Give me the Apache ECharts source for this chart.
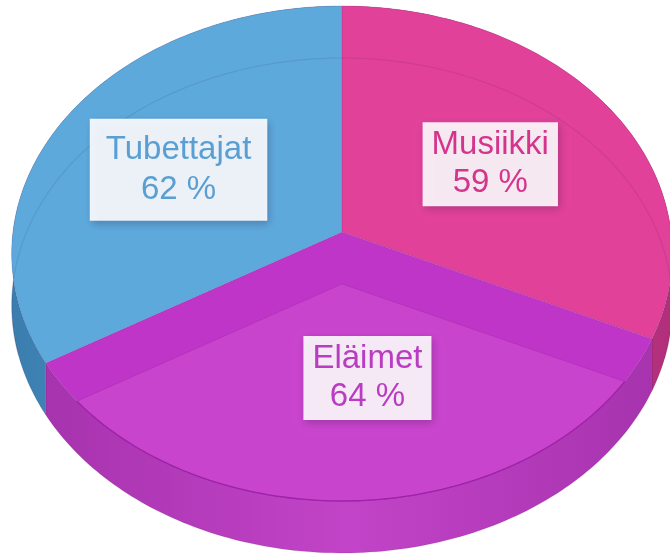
<!DOCTYPE html>
<html>
<head>
<meta charset="utf-8">
<script src="https://cdn.jsdelivr.net/npm/echarts@6/dist/echarts.min.js"></script>
<style>
html, body { margin: 0; padding: 0; background: #fff; }
#chart { width: 670px; height: 556px; }
</style>
</head>
<body>
<div id="chart"></div>
<script>
// slices, clockwise from 12 o'clock
const categories = ['Musiikki', 'Eläimet', 'Tubettajat'];
const shares = [59, 64, 62];

// look of each slice
const sliceStyle = {
    'Musiikki':   { face: '#E2419A', side: ['#B02F7A', '#C8388C'], text: '#D4358C', pad: [4, 9],   lh: 38, dx: 0 },
    'Eläimet':    { face: '#BE35C8', side: ['#A733AE', '#C244C8'], text: '#B93CC2', pad: [4, 9],   lh: 38, dx: 19, inset: '#C944CD' },
    'Tubettajat': { face: '#5DA9DC', side: ['#3A7DAE', '#4E98CC'], text: '#5A9FD4', pad: [11, 16], lh: 40, dx: -10 }
};

// perspective of the disc
const CX = 342, CY = 232, RX = 329, RY = 245.6, K = 0.0869, DEPTH = 52;

function proj(t, drop) {
    const u = Math.sin(t), v = Math.cos(t), d = 1 + K * v;
    return [CX + RX * u / d, CY - RY * v / d + drop];
}
function arc(t0, t1, drop) {
    const n = Math.max(2, Math.ceil(Math.abs(t1 - t0) / (Math.PI / 180)));
    const pts = [];
    for (let s = 0; s <= n; s++) pts.push(proj(t0 + (t1 - t0) * s / n, drop));
    return pts;
}
function unproj(p) {
    const xp = (p[0] - CX) / RX, yp = (CY - p[1]) / RY;
    const v = yp / (1 - K * yp), u = xp * (1 + K * v);
    return [u, v];
}
function insideTop(p) {
    const uv = unproj(p);
    return uv[0] * uv[0] + uv[1] * uv[1] <= 1;
}
// where the ray from the lower centre towards angle t leaves the top rim
function exitPoint(t) {
    const a = [CX, CY + DEPTH], b = proj(t, DEPTH);
    if (insideTop(b)) return b;
    let lo = 0, hi = 1;
    for (let i = 0; i < 40; i++) {
        const m = (lo + hi) / 2;
        const p = [a[0] + (b[0] - a[0]) * m, a[1] + (b[1] - a[1]) * m];
        if (insideTop(p)) lo = m; else hi = m;
    }
    return [a[0] + (b[0] - a[0]) * lo, a[1] + (b[1] - a[1]) * lo];
}
function angleOf(p) {
    const uv = unproj(p);
    let t = Math.atan2(uv[0], uv[1]);
    if (t < 0) t += Math.PI * 2;
    return t;
}

const total = shares.reduce((a, b) => a + b, 0);
const startAngles = [];
let acc = 0;
shares.forEach(v => { startAngles.push(acc / total * Math.PI * 2); acc += v; });

function renderItem(params, api) {
    const i = params.dataIndex;
    const name = categories[i];
    const st = sliceStyle[name];
    const t0 = startAngles[i];
    const t1 = t0 + api.value(0) / total * Math.PI * 2;
    const mid = (t0 + t1) / 2;
    const apex = [CX, CY];
    const children = [];

    // side wall
    const side = arc(t0, t1, 0).concat(arc(t1, t0, DEPTH));
    children.push({
        type: 'polygon', z2: 1,
        shape: { points: side },
        style: {
            fill: new echarts.graphic.LinearGradient(0, 0, 1, 0, [
                { offset: 0, color: st.side[0] },
                { offset: 0.5, color: st.side[1] },
                { offset: 1, color: st.side[0] }
            ]),
            stroke: 'rgba(60,20,80,0.12)', lineWidth: 1
        }
    });

    // top face
    children.push({
        type: 'polygon', z2: 5,
        shape: { points: [apex].concat(arc(t0, t1, 0)) },
        style: { fill: st.face, stroke: 'rgba(80,30,100,0.12)', lineWidth: 1 }
    });

    // lower rim seen through the face
    const ring = [];
    const n = 120;
    for (let s = 0; s <= n; s++) {
        const t = t0 + (t1 - t0) * s / n;
        if (Math.cos(t) > -0.3) ring.push(proj(t, DEPTH));
        else if (ring.length) break;
    }
    if (ring.length > 1) {
        children.push({
            type: 'polyline', z2: 6,
            shape: { points: ring },
            style: { fill: null, stroke: 'rgba(40,20,80,0.1)', lineWidth: 1.2 }
        });
    }

    let labelPos;
    if (st.inset) {
        const apexB = [CX, CY + DEPTH];
        const q0 = exitPoint(t0), q1 = exitPoint(t1);
        let s0 = angleOf(q0), s1 = angleOf(q1);
        if (s1 < s0) s1 += Math.PI * 2;
        children.push({
            type: 'polygon', z2: 7,
            shape: { points: [apexB, q0].concat(arc(s0, s1, 0), [q1]) },
            style: { fill: st.inset, stroke: 'rgba(90,20,110,0.15)', lineWidth: 1 }
        });
        children.push({
            type: 'polyline', z2: 8,
            shape: { points: arc(s0, s1, 0) },
            style: { fill: null, stroke: '#9E22A8', lineWidth: 1.3 }
        });
        const r = proj(mid, DEPTH);
        labelPos = [apexB[0] + 0.35 * (r[0] - apexB[0]), apexB[1] + 0.35 * (r[1] - apexB[1])];
    } else {
        const r = proj(mid, 0);
        labelPos = [apex[0] + 0.56 * (r[0] - apex[0]), apex[1] + 0.56 * (r[1] - apex[1])];
    }

    children.push({
        type: 'text', z2: 20,
        style: {
            text: name + '\n' + api.value(0) + ' %',
            x: labelPos[0] + st.dx, y: labelPos[1] + (st.inset ? 0 : 3),
            align: 'center', verticalAlign: 'middle',
            fill: st.text,
            font: '33px "Liberation Sans", Arial, sans-serif',
            lineHeight: st.lh,
            backgroundColor: 'rgba(255,255,255,0.89)',
            padding: st.pad,
            shadowColor: 'rgba(40,20,60,0.3)',
            shadowBlur: 8,
            shadowOffsetX: 2,
            shadowOffsetY: 3
        }
    });

    return { type: 'group', children: children };
}

const chart = echarts.init(document.getElementById('chart'));
chart.setOption({
    backgroundColor: '#fff',
    animation: false,
    series: [{
        type: 'custom',
        coordinateSystem: 'none',
        renderItem: renderItem,
        silent: true,
        data: shares.map((v, i) => ({ name: categories[i], value: [v] }))
    }]
});
</script>
</body>
</html>
